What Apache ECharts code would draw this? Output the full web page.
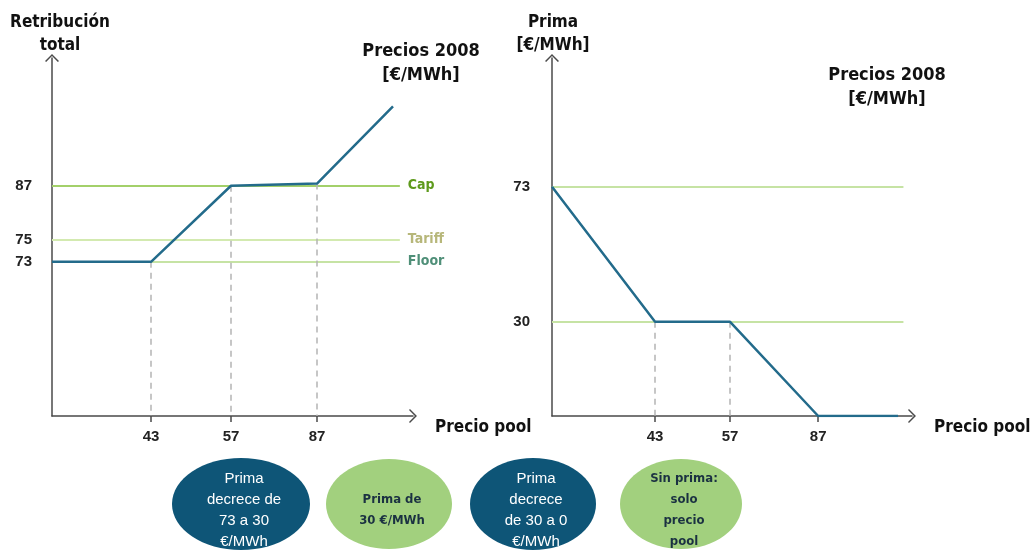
<!DOCTYPE html>
<html>
<head>
<meta charset="utf-8">
<script src="https://cdn.jsdelivr.net/npm/echarts@6/dist/echarts.min.js"></script>
<style>
  html, body { margin: 0; padding: 0; background: #ffffff; }
  #chart { width: 1031px; height: 550px; }
</style>
</head>
<body>
<div id="chart"></div>
<script>
// Pool-price points marked on both horizontal axes (€/MWh)
const priceTicks = [43, 57, 87];

// Left panel: total remuneration against pool price
const retribX = [0, 43, 57, 87, 100.3];
const retribY = [73, 73, 87, 87.2, 94.2];
const retribLevels = [87, 75, 73];
const retribLevelNames = ['Cap', 'Tariff', 'Floor'];

// Right panel: premium against pool price
const primaX = [0, 43, 57, 87, 101.9];
const primaY = [73, 30, 30, 0, 0];
const primaLevels = [73, 30];

// Descriptions of the price bands, shown beneath the charts
const bandTexts = [
  'Prima\ndecrece de\n73 a 30\n€/MWh',
  'Prima de\n30 €/MWh',
  'Prima\ndecrece\nde 30 a 0\n€/MWh',
  'Sin prima:\nsolo\nprecio\npool'
];

const NARROW = "'Liberation Sans Narrow', 'DejaVu Sans Condensed', 'Arial Narrow', sans-serif";
const SANS = "'Liberation Sans', Arial, sans-serif";
const AXIS_COLOR = '#4a4a4a';
const LINE_COLOR = '#236b8b';
const DROP_COLOR = '#b4b4b4';
const ARROW = 'path://M0,10 L10,0 L20,10 L18.4,11.4 L10,3 L1.6,11.4 Z';

const pairs = (xs, ys) => xs.map((x, i) => [x, ys[i]]);
const yAt = (xs, ys, x) => ys[xs.indexOf(x)];

// The diagram is schematic: stretches of the axes are squeezed with hidden breaks
const hiddenBreaks = {
  breakArea: { show: false },
  breakLabelLayout: { moveOverlap: false }
};

function xAxisFor(grid, min, max, breaks) {
  return Object.assign({
    type: 'value', gridIndex: grid, min: min, max: max,
    breaks: breaks,
    name: 'Precio pool', nameLocation: 'end', nameGap: 22,
    nameTextStyle: { color: '#111', fontFamily: NARROW, fontWeight: 'bold', fontSize: 17, verticalAlign: 'top', padding: [3, 0, 0, 0] },
    axisLine: { show: true, breakLine: false, symbol: ['none', ARROW], symbolSize: [14, 8], lineStyle: { color: AXIS_COLOR, width: 1.5 } },
    axisTick: { show: true, customValues: priceTicks, length: 6, lineStyle: { color: AXIS_COLOR, width: 1.5 } },
    axisLabel: { customValues: priceTicks, margin: 13, color: '#222', fontFamily: SANS, fontWeight: 'bold', fontSize: 15 },
    splitLine: { show: false }
  }, hiddenBreaks);
}

function yAxisFor(grid, min, max, breaks, name, ticks, margin, namePad) {
  return Object.assign({
    type: 'value', gridIndex: grid, min: min, max: max,
    breaks: breaks,
    name: name, nameLocation: 'end', nameGap: 1,
    nameTextStyle: { color: '#111', fontFamily: NARROW, fontWeight: 'bold', fontSize: 17, lineHeight: 23, align: 'center', padding: namePad },
    axisLine: { show: true, breakLine: false, symbol: ['none', ARROW], symbolSize: [14, 8], lineStyle: { color: AXIS_COLOR, width: 1.5 } },
    axisTick: { show: false },
    axisLabel: {
      customValues: ticks, margin: margin, hideOverlap: false,
      color: '#222', fontFamily: SANS, fontWeight: 'bold', fontSize: 15
    },
    splitLine: { show: false }
  }, hiddenBreaks);
}

// Horizontal reference levels drawn as mark lines
function levelLines(levels, names, x0, x1, colors, labelColors) {
  return levels.map((v, i) => [
    { coord: [x0, v], lineStyle: { color: colors[i], width: 2, type: 'solid' },
      label: names ? { show: true, position: 'end', formatter: names[i], distance: 8,
        color: labelColors[i], fontFamily: NARROW, fontWeight: 'bold', fontSize: 14 } : { show: false } },
    { coord: [x1, v] }
  ]);
}

// Dashed drops from the curve down to the price axis
function dropLines(xs, ys, yBase) {
  return priceTicks
    .filter(t => yAt(xs, ys, t) > yBase)
    .map(t => [
      { coord: [t, yAt(xs, ys, t)], lineStyle: { color: DROP_COLOR, type: [6, 5], width: 1.5 }, label: { show: false } },
      { coord: [t, yBase] }
    ]);
}

const chart = echarts.init(document.getElementById('chart'), null, { renderer: 'canvas' });

const leftMin = { x: 0, y: 59 };
const rightMin = { x: 0, y: 0 };

const bandCenters = [241, 389, 533, 681];
const bandRadii = [[69, 46], [63, 45], [63, 46], [61, 45]];
const bandFills = ['#0e5577', '#a2d07e', '#0e5577', '#a2d07e'];
const bandInk = ['#ffffff', '#1b3142', '#ffffff', '#1b3142'];

const graphics = [];
bandTexts.forEach((t, i) => {
  graphics.push({
    type: 'ellipse', silent: true,
    shape: { cx: bandCenters[i], cy: 504, rx: bandRadii[i][0], ry: bandRadii[i][1] },
    style: { fill: bandFills[i] }
  });
  graphics.push({
    type: 'text', silent: true, x: bandCenters[i] + 3, y: 510,
    style: {
      text: t, fill: bandInk[i], align: 'center', verticalAlign: 'middle',
      fontFamily: i % 2 === 0 ? SANS : NARROW, fontWeight: i % 2 === 0 ? 'normal' : 'bold',
      fontSize: i % 2 === 0 ? 15 : 13, lineHeight: 21
    }
  });
});
graphics.push(
  { type: 'text', silent: true, x: 421, y: 63,
    style: { text: 'Precios 2008\n[€/MWh]', align: 'center', verticalAlign: 'middle', fill: '#111',
      fontFamily: NARROW, fontWeight: 'bold', fontSize: 18, lineHeight: 24 } },
  { type: 'text', silent: true, x: 887, y: 87,
    style: { text: 'Precios 2008\n[€/MWh]', align: 'center', verticalAlign: 'middle', fill: '#111',
      fontFamily: NARROW, fontWeight: 'bold', fontSize: 18, lineHeight: 24 } }
);

chart.setOption({
  backgroundColor: '#ffffff',
  animation: false,
  grid: [
    { left: 52, top: 58, width: 361, height: 358, containLabel: false, outerBoundsMode: 'none' },
    { left: 552, top: 58, width: 360, height: 358, containLabel: false, outerBoundsMode: 'none' }
  ],
  xAxis: [
    xAxisFor(0, leftMin.x, 103.8, [{ start: 5, end: 38, gap: 7.33 }, { start: 60, end: 84, gap: 9.05 }]),
    xAxisFor(1, rightMin.x, 104.5, [{ start: 5, end: 38, gap: 9.22 }, { start: 60, end: 84, gap: 10.43 }])
  ],
  yAxis: [
    yAxisFor(0, leftMin.y, 98.6, [{ start: 77, end: 85, gap: 0.91 }], 'Retribución\ntotal', retribLevels, 20, [0, 0, 0, 16]),
    yAxisFor(1, rightMin.y, 114, [], 'Prima\n[€/MWh]', primaLevels, 22, [0, 0, 0, 2])
  ],
  series: [
    // Reference levels and drop lines sit beneath the curves
    {
      type: 'line', xAxisIndex: 0, yAxisIndex: 0, z: 1,
      data: [], symbol: 'none',
      markLine: {
        silent: true, symbol: 'none', animation: false, z: 1,
        data: levelLines(retribLevels, retribLevelNames, leftMin.x, 101.5,
          ['#a3d06a', '#d3eab0', '#c6e3a4'], ['#5e9a1c', '#b7b77a', '#4f8f78'])
          .concat(dropLines(retribX, retribY, leftMin.y))
      }
    },
    {
      type: 'line', xAxisIndex: 0, yAxisIndex: 0, z: 6,
      data: pairs(retribX, retribY),
      symbol: 'none', lineStyle: { color: LINE_COLOR, width: 2.5 }
    },
    {
      type: 'line', xAxisIndex: 1, yAxisIndex: 1, z: 1,
      data: [], symbol: 'none',
      markLine: {
        silent: true, symbol: 'none', animation: false, z: 1,
        data: levelLines(primaLevels, null, rightMin.x, 102.9, ['#c6e3a4', '#c6e3a4'], [])
          .concat(dropLines(primaX, primaY, rightMin.y))
      }
    },
    {
      type: 'line', xAxisIndex: 1, yAxisIndex: 1, z: 6,
      data: pairs(primaX, primaY),
      symbol: 'none', lineStyle: { color: LINE_COLOR, width: 2.5 }
    }
  ],
  graphic: graphics
});
</script>
</body>
</html>
